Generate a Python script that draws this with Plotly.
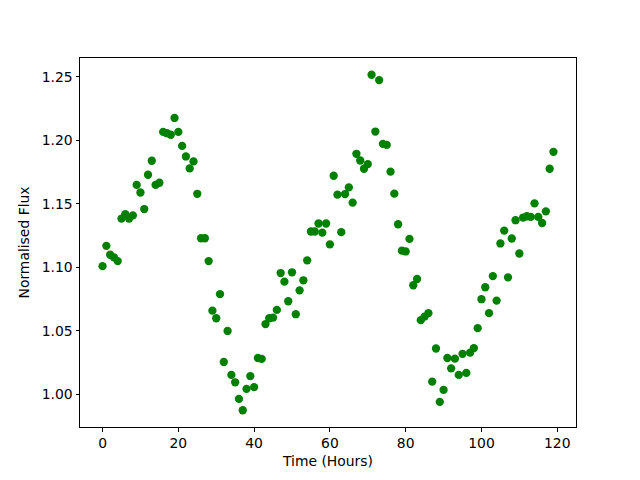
import plotly.graph_objects as go

hours = list(range(120))
flux = [
    1.101, 1.117, 1.110, 1.108, 1.105, 1.1385, 1.142, 1.1385, 1.141, 1.165,
    1.159, 1.146, 1.173, 1.184, 1.165, 1.1667, 1.2067, 1.2057, 1.2045, 1.2177,
    1.2067, 1.1957, 1.1874, 1.178, 1.1835, 1.158, 1.123, 1.123, 1.105, 1.066,
    1.060, 1.079, 1.0256, 1.050, 1.0154, 1.0096, 0.9965, 0.9876, 1.0044, 1.0145,
    1.0058, 1.0287, 1.028, 1.0554, 1.060, 1.0605, 1.0666, 1.0956, 1.0888, 1.0734,
    1.0962, 1.0632, 1.082, 1.0899, 1.1056, 1.1283, 1.1283, 1.1346, 1.1274, 1.1346,
    1.1182, 1.1722, 1.1573, 1.1278, 1.1578, 1.163, 1.151, 1.1895, 1.1842, 1.1777,
    1.1813, 1.2517, 1.207, 1.2475, 1.1973, 1.1965, 1.1754, 1.1581, 1.134, 1.1132,
    1.1126, 1.1225, 1.086, 1.0909, 1.0585, 1.0613, 1.064, 1.0101, 1.0362, 0.9942,
    1.0036, 1.0287, 1.0206, 1.0282, 1.0154, 1.032, 1.017, 1.0329, 1.0365, 1.0522,
    1.075, 1.0844, 1.064, 1.0932, 1.0739, 1.1189, 1.129, 1.0922, 1.1228, 1.1372,
    1.111, 1.1393, 1.1403, 1.1398, 1.1505, 1.1398, 1.135, 1.1442, 1.1777, 1.191,
]
x_ticks = [0, 20, 40, 60, 80, 100, 120]
y_ticks = [1.00, 1.05, 1.10, 1.15, 1.20, 1.25]

xmin, xmax = min(hours), max(hours)
ymin, ymax = min(flux), max(flux)
xpad = 0.05 * (xmax - xmin)
ypad = 0.05 * (ymax - ymin)

fig = go.Figure(
    go.Scatter(
        x=hours, y=flux, mode="markers",
        marker=dict(color="#008000", size=8.3, line=dict(width=0)),
    )
)

axis_common = dict(
    showline=True, linecolor="black", linewidth=1, mirror=True,
    showgrid=False, zeroline=False,
    ticks="outside", ticklen=3.5, tickwidth=1, tickcolor="black",
    tickfont=dict(family="DejaVu Sans", size=13.9, color="black"),
    title_font=dict(family="DejaVu Sans", size=13.9, color="black"),
)

fig.update_xaxes(
    range=[xmin - xpad, xmax + xpad], tickvals=x_ticks,
    title_text="Time (Hours)", title_standoff=6, **axis_common,
)
fig.update_yaxes(
    range=[ymin - ypad, ymax + ypad], tickvals=y_ticks, tickformat=".2f",
    title_text="Normalised Flux", title_standoff=8, **axis_common,
)

fig.update_layout(
    width=632, height=472,
    margin=dict(l=72, r=64, t=50, b=53, pad=0),
    plot_bgcolor="white", paper_bgcolor="white",
    showlegend=False,
    font=dict(family="DejaVu Sans", color="black"),
)

fig.write_html("out.html")
